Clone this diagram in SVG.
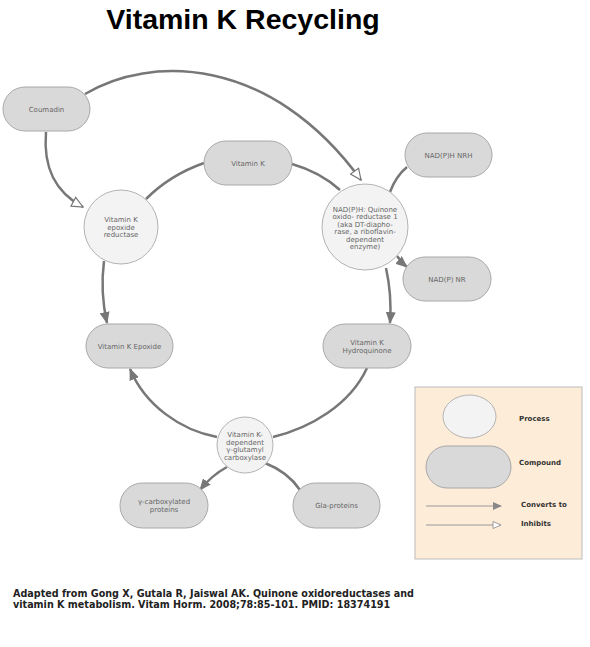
<svg xmlns="http://www.w3.org/2000/svg" width="590" height="647" viewBox="0 0 590 647">
<style>
.pill{fill:#d9d9d9;stroke:#a8a8a8;stroke-width:1}
.proc{fill:#f3f3f3;stroke:#b3b3b3;stroke-width:1}
.lbl{font-family:"DejaVu Sans",Verdana,sans-serif;font-size:7px;fill:#666;text-anchor:middle}
.con{fill:none;stroke:#777;stroke-width:2.5}
.leg{font-family:"DejaVu Sans",Verdana,sans-serif;font-size:7px;font-weight:bold;fill:#333}
</style>
<defs>
<marker id="arr" markerWidth="12" markerHeight="10" refX="11" refY="5" orient="auto" markerUnits="userSpaceOnUse"><path d="M0,0 L12,5 L0,10 Z" fill="#777"/></marker>
<marker id="inh" markerWidth="14" markerHeight="12" refX="12" refY="6" orient="auto" markerUnits="userSpaceOnUse"><path d="M1,1 L12,6 L1,11 Z" fill="#fff" stroke="#777" stroke-width="1.2"/></marker>
<marker id="arrS" markerWidth="9" markerHeight="8" refX="8" refY="4" orient="auto" markerUnits="userSpaceOnUse"><path d="M0,0 L9,4 L0,8 Z" fill="#888"/></marker>
<marker id="inhS" markerWidth="10" markerHeight="9" refX="9" refY="4.5" orient="auto" markerUnits="userSpaceOnUse"><path d="M1,1 L9,4.5 L1,8 Z" fill="#fff" stroke="#888" stroke-width="0.8"/></marker>
</defs>
<rect width="590" height="647" fill="#fff"/>
<text x="243" y="29" font-family="'Liberation Sans',Arial,sans-serif" font-size="28.5" font-weight="bold" text-anchor="middle" fill="#000">Vitamin K Recycling</text>

<g id="connectors">
<path class="con" d="M85,94 C150,55 270,55 361,180" marker-end="url(#inh)"/>
<path class="con" d="M46,132 C43,168 55,192 83,207" marker-end="url(#inh)"/>
<path class="con" d="M204,163 Q170,175 146,199"/>
<path class="con" d="M104,261 Q100,292 107,323" marker-end="url(#arr)"/>
<path class="con" d="M292,164 Q320,172 340,190"/>
<path class="con" d="M407,167 Q396,176 390,192"/>
<path class="con" d="M397,256 Q401,262 407,267" marker-end="url(#arr)"/>
<path class="con" d="M386,268 Q392,295 390,323" marker-end="url(#arr)"/>
<path class="con" d="M367,368 C350,405 310,428 273,437"/>
<path class="con" d="M217,437 C180,430 145,405 130,369" marker-end="url(#arr)"/>
<path class="con" d="M227,467 Q212,475 200,490" marker-end="url(#arr)"/>
<path class="con" d="M300,490 Q288,472 265,463"/>
</g>

<g id="coumadin"><rect class="pill" x="3" y="87" width="87" height="44" rx="22"/><text class="lbl" x="46.5" y="111.5">Coumadin</text></g>
<g id="vitamin-k"><rect class="pill" x="204" y="141" width="88" height="44" rx="22"/><text class="lbl" x="248" y="165.5">Vitamin K</text></g>
<g id="vker"><circle class="proc" cx="121" cy="227" r="37"/><text class="lbl" x="121" y="222">Vitamin K</text><text class="lbl" x="121" y="229.5">epoxide</text><text class="lbl" x="121" y="237">reductase</text></g>
<g id="nqo1"><circle class="proc" cx="365" cy="227" r="43"/>
<text class="lbl" x="365" y="211.5">NAD(P)H: Quinone</text><text class="lbl" x="365" y="219">oxido- reductase 1</text><text class="lbl" x="365" y="226.5">(aka DT-diapho-</text><text class="lbl" x="365" y="234">rase, a riboflavin-</text><text class="lbl" x="365" y="241.5">dependent</text><text class="lbl" x="365" y="249">enzyme)</text></g>
<g id="nadph-nrh"><rect class="pill" x="405" y="133" width="87" height="44" rx="22"/><text class="lbl" x="448.5" y="157.5">NAD(P)H NRH</text></g>
<g id="nadp-nr"><rect class="pill" x="403" y="257" width="88" height="44" rx="22"/><text class="lbl" x="447" y="281.5">NAD(P) NR</text></g>
<g id="vk-epoxide"><rect class="pill" x="86" y="324" width="87" height="44" rx="22"/><text class="lbl" x="129.5" y="348.5">Vitamin K Epoxide</text></g>
<g id="vk-hydroquinone"><rect class="pill" x="323" y="324" width="88" height="44" rx="22"/><text class="lbl" x="367" y="345">Vitamin K</text><text class="lbl" x="367" y="353">Hydroquinone</text></g>
<g id="carboxylase"><circle class="proc" cx="245" cy="445" r="28"/><text class="lbl" x="245" y="437">Vitamin K-</text><text class="lbl" x="245" y="444.5">dependent</text><text class="lbl" x="245" y="452">γ-glutamyl</text><text class="lbl" x="245" y="459.5">carboxylase</text></g>
<g id="gamma-carboxylated"><rect class="pill" x="120" y="483" width="88" height="45" rx="22.5"/><text class="lbl" x="164" y="504">γ-carboxylated</text><text class="lbl" x="164" y="512">proteins</text></g>
<g id="gla-proteins"><rect class="pill" x="293" y="483" width="87" height="45" rx="22.5"/><text class="lbl" x="336.5" y="508">Gla-proteins</text></g>

<g id="legend">
<rect x="415" y="387" width="167" height="172" fill="#fdecd8" stroke="#bbb" stroke-width="1"/>
<ellipse class="proc" cx="469.5" cy="416.5" rx="26.5" ry="21.5"/>
<rect class="pill" x="426" y="446" width="85" height="42" rx="21"/>
<line x1="426" y1="506" x2="501" y2="506" stroke="#999" stroke-width="1" marker-end="url(#arrS)"/>
<line x1="426" y1="525" x2="501" y2="525" stroke="#999" stroke-width="1" marker-end="url(#inhS)"/>
<text class="leg" x="519" y="421">Process</text>
<text class="leg" x="519" y="465">Compound</text>
<text class="leg" x="521" y="507">Converts to</text>
<text class="leg" x="521" y="526">Inhibits</text>
</g>

<g id="citation" font-family="'DejaVu Sans',Verdana,sans-serif" font-size="9.6" font-weight="bold" fill="#222">
<text x="13" y="597">Adapted from Gong X, Gutala R, Jaiswal AK. Quinone oxidoreductases and</text>
<text x="13" y="608">vitamin K metabolism. Vitam Horm. 2008;78:85-101. PMID: 18374191</text>
</g>
</svg>
